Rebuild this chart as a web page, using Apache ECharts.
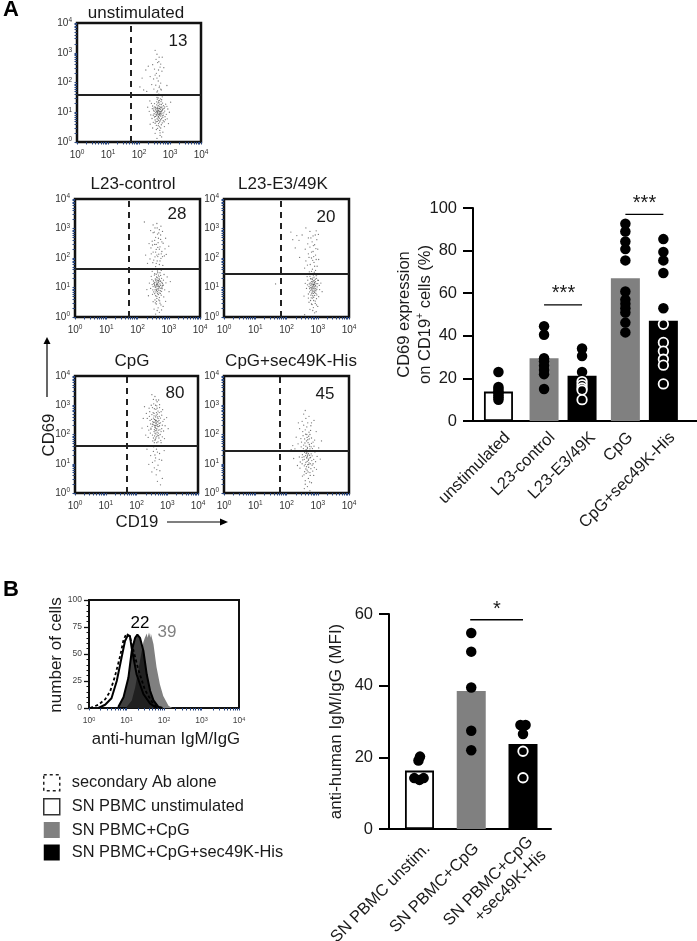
<!DOCTYPE html>
<html><head><meta charset="utf-8">
<style>html,body{margin:0;padding:0;background:#fff}#c{width:697px;height:941px}</style>
<script src="https://cdn.jsdelivr.net/npm/echarts@6/dist/echarts.min.js"></script>
</head><body><div id="c"></div>
<script>
// ---------- DATA ----------
// Flow-cytometry events as [log10 CD19, log10 CD69]
const facsUnstim = [[2.65,1.02],[2.58,0.88],[2.72,1.15],[2.61,1.31],[2.49,0.95],[2.77,0.83],[2.68,0.71],[2.55,1.12],[2.83,1.04],[2.44,1.21],[2.63,0.62],[2.71,1.36],[2.52,0.74],[2.79,1.22],[2.59,1.44],[2.38,0.91],[2.88,0.93],[2.66,0.51],[2.47,1.07],[2.74,0.97],[2.57,1.25],[2.62,0.83],[2.69,1.09],[2.54,0.99],[2.81,1.13],[2.42,0.79],[2.75,0.64],[2.6,1.17],[2.64,0.92],[2.5,1.29],[2.86,1.27],[2.33,1.03],[2.93,1.11],[2.67,0.39],[2.56,0.56],[2.73,1.42],[2.46,0.66],[2.78,0.72],[2.61,0.77],[2.7,0.87],[2.53,0.86],[2.65,1.2],[2.58,1.05],[2.76,1.08],[2.48,1.14],[2.84,0.85],[2.63,1.38],[2.4,1.3],[2.91,0.78],[2.55,0.68],[2.72,0.58],[2.6,0.46],[2.77,0.33],[2.52,0.29],[2.68,0.22],[2.44,0.47],[2.82,0.52],[2.66,0.94],[2.59,0.97],[2.7,1.01],[2.62,1.07],[2.57,0.91],[2.74,1.18],[2.51,1.18],[2.67,1.27],[2.98,1.0],[2.28,1.17],[3.02,1.34],[2.36,0.6],[2.95,0.62],[2.6,1.72],[2.72,1.75],[2.65,1.83],[2.54,1.91],[2.7,1.98],[2.48,1.78],[2.62,2.05],[2.41,1.93],[2.66,2.22],[2.56,2.31],[2.74,2.38],[2.5,2.45],[2.44,2.6],[2.68,2.52],[2.6,2.67],[2.8,2.5],[2.55,2.78],[2.36,2.2],[2.1,2.15],[2.22,2.42],[2.03,1.85],[2.15,1.75],[2.3,2.55],[2.52,3.08],[2.58,2.95],[2.9,1.9],[2.75,2.85],[2.25,1.7],[2.47,2.12],[2.63,2.42]];
const facsUnstimCore = [[2.64,1.05],[2.67,1.13],[2.6,0.99],[2.71,0.93],[2.63,0.86],[2.56,1.02],[2.69,1.17],[2.73,1.03],[2.59,1.11],[2.66,0.8],[2.62,1.23],[2.55,0.93],[2.7,0.75],[2.75,0.88],[2.58,0.78],[2.65,1.12],[2.61,0.94],[2.68,1.02],[2.53,1.08],[2.77,1.11],[2.72,1.26],[2.57,1.35],[2.64,1.33],[2.49,1.03],[2.5,0.84],[2.8,0.98],[2.66,0.67],[2.59,0.69],[2.73,0.79],[2.62,0.55],[2.7,0.47],[2.56,0.42],[2.78,0.9],[2.46,0.9],[2.83,1.18],[2.85,0.75],[2.43,1.12],[2.67,0.9],[2.61,1.13],[2.74,1.06],[2.6,1.03],[2.65,0.97],[2.69,0.96],[2.54,1.16],[2.63,0.73],[2.76,1.31],[2.52,0.63],[2.81,0.68],[2.68,0.31],[2.73,0.17],[2.58,0.12],[2.66,1.4],[2.69,1.45],[2.58,1.5],[2.75,1.52],[2.62,1.48],[2.9,1.2],[2.35,1.38],[2.64,1.61],[2.7,1.78],[2.58,1.68],[2.66,1.88],[2.64,2.7],[2.58,2.15],[2.7,2.62],[2.52,2.25],[2.65,2.85]];
const facsL23Control = [[2.66,1.08],[2.6,0.94],[2.72,1.2],[2.55,1.17],[2.78,1.01],[2.63,1.33],[2.5,1.03],[2.69,0.82],[2.83,1.25],[2.58,0.72],[2.74,1.41],[2.46,1.27],[2.65,1.5],[2.87,0.92],[2.52,0.85],[2.76,0.74],[2.61,1.11],[2.7,1.04],[2.57,1.29],[2.67,0.98],[2.42,0.97],[2.8,1.13],[2.54,1.42],[2.73,0.89],[2.62,0.63],[2.91,1.16],[2.48,0.77],[2.68,1.24],[2.59,1.02],[2.77,1.31],[2.64,0.86],[2.38,1.15],[2.56,0.58],[2.84,0.68],[2.71,0.55],[2.44,1.38],[2.95,1.36],[2.6,0.44],[2.75,0.41],[2.5,0.52],[2.66,0.31],[2.82,0.36],[2.53,0.27],[2.7,0.16],[2.58,0.1],[2.35,0.72],[3.01,0.86],[2.63,1.14],[2.67,1.19],[2.55,1.06],[2.74,1.07],[2.61,0.9],[2.69,1.37],[2.51,1.22],[2.79,0.96],[2.85,1.44],[2.47,1.55],[2.64,1.56],[2.76,1.58],[2.9,0.53],[2.3,0.93],[3.05,1.2],[2.58,1.71],[2.7,1.78],[2.49,1.84],[2.81,1.75],[2.63,1.9],[2.4,1.97],[2.75,1.99],[2.56,2.04],[2.86,2.07],[2.32,1.82],[2.68,2.13],[2.5,2.2],[2.78,2.22],[2.6,2.29],[2.43,2.34],[2.72,2.38],[2.88,2.31],[2.55,2.46],[2.66,2.52],[2.82,2.5],[2.47,2.57],[2.74,2.63],[2.58,2.7],[2.37,2.49],[2.9,2.67],[2.64,2.81],[2.5,2.86],[2.8,2.9],[2.7,2.96],[2.56,3.02],[2.42,2.93],[2.75,3.08],[2.62,3.17],[2.5,3.12],[2.22,3.22],[2.92,2.12],[2.26,2.1],[3.0,2.4],[2.67,1.64]];
const facsL23ControlCore = [[2.64,1.1],[2.68,1.04],[2.6,1.19],[2.72,1.12],[2.57,1.01],[2.65,0.95],[2.7,1.27],[2.62,1.26],[2.75,0.97],[2.54,1.11],[2.66,1.16],[2.59,0.85],[2.73,0.8],[2.63,1.04],[2.68,0.91],[2.56,0.92],[2.78,1.17],[2.52,1.14],[2.61,1.36],[2.69,1.31],[2.65,1.23],[2.8,1.06],[2.49,0.92],[2.58,1.25],[2.71,0.99],[2.6,1.08],[2.74,1.22],[2.67,0.76],[2.55,0.79],[2.62,0.7],[2.7,0.66],[2.77,0.87],[2.47,1.1],[2.83,1.08],[2.64,0.79],[2.68,0.58],[2.57,0.48],[2.72,0.47],[2.61,0.53],[2.63,0.22],[2.77,0.24],[2.55,1.47],[2.72,1.5],[2.6,1.45],[2.67,1.42],[2.65,2.05],[2.6,2.46],[2.7,2.3],[2.52,1.93],[2.74,2.78],[2.55,2.6],[2.67,2.67],[2.62,2.1],[2.72,1.9],[2.48,2.44],[2.78,2.55],[2.6,1.82],[2.8,2.05],[2.65,2.36],[2.54,2.88],[2.68,2.85],[2.44,2.14],[2.76,2.14],[2.58,2.2],[2.63,3.02]];
const facsL23E3 = [[2.86,1.08],[2.8,0.95],[2.93,1.2],[2.76,1.16],[2.98,1.02],[2.84,1.32],[2.72,1.04],[2.9,0.83],[3.02,1.24],[2.78,0.74],[2.95,1.4],[2.68,1.25],[2.87,1.47],[3.06,0.93],[2.74,0.85],[2.97,0.75],[2.82,1.12],[2.91,1.05],[2.79,1.29],[2.88,0.98],[2.64,0.97],[3.0,1.13],[2.75,1.38],[2.94,0.89],[2.83,0.64],[3.1,1.15],[2.7,0.78],[2.89,1.23],[2.81,1.01],[2.96,1.31],[2.85,0.87],[2.6,1.14],[2.77,0.56],[3.03,0.69],[2.92,0.54],[2.66,1.37],[2.85,1.1],[2.88,1.15],[2.83,1.19],[2.9,1.11],[2.8,0.44],[2.96,0.41],[2.72,0.5],[2.86,0.32],[3.0,0.36],[2.75,0.26],[2.9,0.14],[2.58,0.08],[2.56,0.71],[3.14,0.86],[2.84,0.91],[2.78,1.07],[2.92,0.97],[2.81,0.79],[2.87,0.67],[2.73,1.53],[2.93,1.58],[2.83,1.62],[2.98,1.72],[2.76,1.78],[2.88,1.85],[2.62,1.9],[3.03,1.95],[2.8,2.0],[2.93,2.1],[2.7,2.14],[2.85,2.22],[3.0,2.3],[2.75,2.37],[2.9,2.45],[2.6,2.3],[2.82,2.55],[2.97,2.62],[2.7,2.68],[2.85,2.75],[3.02,2.8],[2.75,2.9],[2.4,2.6],[2.2,2.62],[2.28,2.34],[2.14,2.88],[2.5,2.78],[2.42,2.02],[2.58,1.66],[2.33,2.76],[2.62,3.02],[2.95,2.92],[1.65,1.12]];
const facsL23E3Core = [[2.87,1.1],[2.9,1.17],[2.84,1.04],[2.93,1.06],[2.86,1.22],[2.82,0.99],[2.91,0.92],[2.88,1.02],[2.79,1.12],[2.95,1.13],[2.85,0.96],[2.76,1.0],[2.89,0.88],[2.83,1.27],[2.92,1.28],[2.8,1.2],[2.97,0.94],[2.86,0.8],[2.78,0.9],[2.94,0.8],[2.73,1.12],[3.0,1.25],[2.88,1.35],[2.82,0.84],[2.74,0.96],[2.9,0.73],[2.84,0.72],[2.96,0.62],[2.79,0.65],[2.87,0.56],[2.92,0.46],[2.82,0.42],[2.7,0.64],[2.86,1.42],[2.98,1.44],[2.77,1.3],[2.67,1.09],[3.05,1.07],[2.89,1.52],[2.78,1.46],[2.84,0.22],[2.95,0.18],[2.8,2.2],[2.9,1.72],[2.84,1.92],[2.95,1.95],[2.72,2.02],[2.86,2.42],[2.94,2.32],[2.78,2.68],[2.87,2.05],[2.68,2.48],[2.92,2.78],[2.8,1.55],[2.67,1.76]];
const facsCpG = [[2.65,2.4],[2.58,2.52],[2.72,2.27],[2.61,2.13],[2.53,2.44],[2.78,2.56],[2.68,2.7],[2.56,2.33],[2.82,2.2],[2.47,2.18],[2.63,2.86],[2.71,2.05],[2.5,2.68],[2.77,2.0],[2.59,1.95],[2.42,2.62],[2.86,2.45],[2.66,2.98],[2.46,2.36],[2.74,2.62],[2.57,2.1],[2.62,2.6],[2.69,2.34],[2.54,2.75],[2.8,2.78],[2.41,2.9],[2.75,2.92],[2.6,2.24],[2.64,2.48],[2.52,1.98],[2.88,2.12],[2.36,2.28],[2.93,2.3],[2.67,3.12],[2.56,3.05],[2.73,1.88],[2.45,2.05],[2.79,1.8],[2.61,1.83],[2.7,1.75],[2.53,1.78],[2.66,1.93],[2.58,1.72],[2.76,2.16],[2.48,3.0],[2.84,1.92],[2.63,2.02],[2.38,1.9],[2.91,1.86],[2.55,3.2],[2.72,3.18],[2.6,3.3],[2.5,3.36],[2.32,2.72],[2.26,2.95],[2.22,2.55],[2.98,2.58],[3.03,2.2],[2.85,2.85],[2.66,2.2],[2.6,2.42],[2.7,2.55],[2.62,2.3],[2.57,2.64],[2.74,2.38],[2.51,2.28],[2.67,2.08],[2.43,2.78],[2.18,2.22],[2.3,1.98],[2.65,1.5],[2.55,1.42],[2.75,1.35],[2.46,1.28],[2.62,1.2],[2.82,1.12],[2.52,1.05],[2.7,0.95],[2.58,0.86],[2.76,0.76],[2.64,0.62],[2.84,0.5],[2.68,0.4],[2.5,0.72],[2.9,1.45],[2.4,0.98],[2.72,1.6],[2.6,1.3],[2.78,0.28],[2.56,1.58],[2.34,1.5]];
const facsCpGCore = [[2.63,2.37],[2.67,2.45],[2.6,2.51],[2.7,2.43],[2.62,2.22],[2.66,2.32],[2.56,2.41],[2.73,2.48],[2.58,2.17],[2.68,2.6],[2.64,2.66],[2.71,2.15],[2.55,2.56],[2.75,2.3],[2.6,2.05],[2.68,1.98],[2.52,2.35],[2.78,2.4],[2.63,1.88],[2.57,2.72],[2.7,2.8],[2.65,2.75],[2.49,2.52],[2.82,2.66],[2.6,1.8],[2.72,1.96],[2.47,2.22],[2.8,2.1],[2.66,1.72],[2.55,1.88],[2.74,2.75],[2.58,2.88],[2.67,2.9],[2.44,2.48],[2.84,2.32],[2.62,3.0],[2.52,2.92],[2.75,3.02],[2.35,2.55],[2.9,2.52],[2.4,2.15],[2.62,2.47],[2.68,2.27],[2.65,2.15],[2.59,2.3],[2.64,3.18],[2.8,1.72],[2.58,1.62],[2.68,1.4],[2.6,1.1],[2.74,1.15],[2.66,0.8]];
const facsCpGSec = [[2.7,1.35],[2.63,1.48],[2.77,1.22],[2.66,1.08],[2.58,1.39],[2.83,1.52],[2.73,1.66],[2.61,1.28],[2.87,1.15],[2.52,1.13],[2.68,1.82],[2.76,1.0],[2.55,1.64],[2.82,0.95],[2.64,0.9],[2.47,1.58],[2.91,1.4],[2.71,1.94],[2.51,1.31],[2.79,1.58],[2.62,1.05],[2.67,1.56],[2.74,1.29],[2.59,1.71],[2.85,1.74],[2.46,1.86],[2.8,1.88],[2.65,1.19],[2.69,1.44],[2.57,0.93],[2.93,1.07],[2.41,1.23],[2.98,1.25],[2.72,2.08],[2.61,2.01],[2.78,0.83],[2.5,1.0],[2.84,0.75],[2.66,0.78],[2.75,0.7],[2.58,0.73],[2.71,0.88],[2.63,0.67],[2.81,1.11],[2.53,1.96],[2.89,0.87],[2.68,0.97],[2.43,0.85],[2.96,0.81],[2.6,2.16],[2.77,2.14],[2.65,2.26],[2.55,2.32],[2.37,1.68],[2.31,1.91],[2.27,1.51],[3.03,1.54],[3.08,1.16],[2.9,1.81],[2.71,1.16],[2.65,1.38],[2.75,1.51],[2.67,1.26],[2.62,1.6],[2.79,1.34],[2.56,1.24],[2.72,1.03],[2.48,1.74],[2.23,1.18],[2.35,0.94],[2.7,0.5],[2.6,0.42],[2.8,0.35],[2.51,0.58],[2.67,0.22],[2.87,0.6],[2.57,0.15],[2.75,0.08],[2.5,2.45],[2.8,2.4],[2.62,2.55],[2.72,2.62],[2.55,2.7],[2.78,2.3],[2.42,2.2],[2.95,2.1],[2.6,2.82],[2.88,2.48],[2.38,2.4],[3.12,1.78],[2.2,1.62],[2.15,1.48]];
const facsCpGSecCore = [[2.68,1.3],[2.72,1.42],[2.65,1.22],[2.7,1.12],[2.63,1.35],[2.75,1.2],[2.6,1.46],[2.67,1.52],[2.74,1.6],[2.57,1.15],[2.69,1.72],[2.64,1.78],[2.78,1.44],[2.54,1.52],[2.71,0.98],[2.6,0.98],[2.82,1.27],[2.5,1.22],[2.66,1.9],[2.73,1.85],[2.58,1.85],[2.8,1.7],[2.62,0.82],[2.69,0.72],[2.76,0.6],[2.56,0.62],[2.85,1.0],[2.48,1.42],[2.88,1.6],[2.44,1.06],[2.65,2.0],[2.75,2.0],[2.52,2.1],[2.68,2.4],[2.6,0.3],[2.74,0.38]];

const panelTitles = ['unstimulated','L23-control','L23-E3/49K','CpG','CpG+sec49K-His'];
const panelPercents = ['13','28','20','80','45'];
const panelEvents = [facsUnstim.concat(facsUnstimCore),facsL23Control.concat(facsL23ControlCore),facsL23E3.concat(facsL23E3Core),facsCpG.concat(facsCpGCore),facsCpGSec.concat(facsCpGSecCore)];
const gateCD19 = [1.73,1.73,1.81,1.69,1.78];   // log10
const gateCD69 = [1.58,1.65,1.48,1.60,1.46];   // log10
const decadeTicks = [1,10,100,1000,10000];

const cd69Categories = ['unstimulated','L23-control','L23-E3/49K','CpG','CpG+sec49K-His'];
const cd69Means = [13.8,29.5,21.2,67,47.1];
const cd69Filled = [[23,16,15,14,13,12,11,10],[44.5,40.5,29.5,28,26,24,22,15],[34,30.5,23],[92.6,89,84.3,80.7,75.4,60.8,57,55,52.9,50.9,46.2,41.6],[85.4,79.4,75.4,69.5,52.9]];
const cd69Open = [[],[],[18.5,17,15.5,14.5,10],[],[45.4,36.9,32.8,29,26.2,17.4]];

const mfiCategories = ['SN PBMC unstim.','SN PBMC+CpG','SN PBMC+CpG\n+sec49K-His'];
const mfiMeans = [16.3,38.5,23.7];
const mfiFilled = [[[0.01,20.2],[-0.02,19.1],[-0.1,14.2],[0,13.7],[0.08,14.2]],[[0,54.7],[0,49.5],[0,39.5],[0,27.4],[0,22]],[[-0.05,29],[0.05,29],[0,26.5]]];
const mfiOpen = [[],[],[[0,21.7],[0,14.3]]];

// Histograms as [log10 fluorescence, % of max]
const histSecondary = [[.03,0],[.25,3],[.43,8],[.56,15],[.69,29],[.83,48],[.92,63],[1.0,69],[1.09,66],[1.18,54],[1.32,35],[1.49,17],[1.67,6],[1.8,1],[1.95,0]];
const histUnstim = [[.25,0],[.43,3],[.6,9],[.74,25],[.87,47],[.96,62],[1.03,67],[1.09,67],[1.14,55],[1.27,31],[1.45,13],[1.63,4],[1.8,0]];
const histCpG = [[1.0,1],[1.14,7],[1.23,19],[1.36,44],[1.45,61],[1.49,65],[1.54,69],[1.56,65],[1.6,70],[1.64,65],[1.65,69],[1.72,59],[1.8,38],[1.89,22],[1.98,11],[2.12,2],[2.22,0]];
const histCpGSec = [[.78,1],[.92,10],[1.05,28],[1.14,53],[1.23,65],[1.29,68],[1.36,65],[1.45,53],[1.54,31],[1.63,16],[1.72,7],[1.85,1],[1.96,0]];
const legendNames = ['secondary Ab alone','SN PBMC unstimulated','SN PBMC+CpG','SN PBMC+CpG+sec49K-His'];

// ---------- LAYOUT ----------
const FONT = '"Liberation Sans", Arial, sans-serif';
const INK = '#1a1a1a';
const panelRects = [[77,23,124,119],[75,199,125,118],[224,199,125,118],[75,376,123,117],[224,376,125,117]];
const panelTitlePos = [[136,13],[133,184],[283,184],[132,361],[291,361]];
const panelPercentPos = [[178,41],[177,214],[326,217],[175,393],[325,394]];
const cd69Slots = [0.67,1.87,2.87,4.01,5.01];
const cd69LabelSlots = [0.91,2.09,3.15,4.14,5.25];
const mfiSlots = [1,2,3];
const mfiLabelSlots = [1.155,2.1,3.27];

const pow10 = d => Math.pow(10,d);
const logTicks = [];
for (let k=0;k<4;k++) for (let m=1;m<10;m++) logTicks.push(m*pow10(k));
logTicks.push(10000);
const logLabel = v => '{b|10}{s|'+Math.round(Math.log10(v))+'}';
const logRich = {b:{fontSize:10,fontFamily:FONT,color:'#333'},s:{fontSize:6.5,fontFamily:FONT,color:'#333',verticalAlign:'top',padding:[0,0,5,0]}};

function logAxis(gridIndex,labelMargin){
  return {type:'log',logBase:10,min:1,max:10000,gridIndex,splitLine:{show:false},
    axisLine:{show:false,onZero:false},
    axisTick:{show:true,length:2.5,lineStyle:{color:'#27457f',width:1},customValues:logTicks},
    minorTick:{show:false},
    axisLabel:{show:true,margin:labelMargin,formatter:logLabel,rich:logRich,customValues:decadeTicks,showMinLabel:true,showMaxLabel:true}};
}

const grids=[],xAxes=[],yAxes=[],series=[],graphic=[];
const text=(s,x,y,o={})=>graphic.push({type:'text',x,y,rotation:o.rot||0,z:20,style:{text:s,fill:o.fill||INK,font:(o.bold?'bold ':'')+(o.size||17)+'px '+FONT,align:'center',verticalAlign:'middle'}});

panelRects.forEach((r,i)=>{
  grids.push({left:r[0],top:r[1],width:r[2],height:r[3],outerBoundsMode:'none',show:true,borderColor:'#111',borderWidth:2.5,backgroundColor:'#fff'});
  xAxes.push(logAxis(i,7));
  yAxes.push(logAxis(i,5));
  series.push({type:'scatter',name:panelTitles[i],xAxisIndex:i,yAxisIndex:i,symbolSize:1.3,large:false,silent:true,
    itemStyle:{color:'#222',opacity:.62},data:panelEvents[i].map(p=>[pow10(p[0]),pow10(p[1])]),
    markLine:{silent:true,symbol:'none',animation:false,label:{show:false},data:[
      {xAxis:pow10(gateCD19[i]),lineStyle:{color:'#222',width:2,type:[6,5]}},
      {yAxis:pow10(gateCD69[i]),lineStyle:{color:'#222',width:1.8,type:'solid'}}
    ]}});
  text(panelTitles[i],panelTitlePos[i][0],panelTitlePos[i][1]);
  text(panelPercents[i],panelPercentPos[i][0],panelPercentPos[i][1]);
});

// Histogram panel
const H = grids.length;
grids.push({left:89,top:600,width:150,height:108,outerBoundsMode:'none',show:true,borderColor:'#111',borderWidth:2,backgroundColor:'#fff'});
const hx = logAxis(H,8);
hx.axisLabel.rich = {b:{fontSize:8.5,fontFamily:FONT,color:'#444'},s:{fontSize:5.5,fontFamily:FONT,color:'#444',verticalAlign:'top',padding:[0,0,4,0]}};
xAxes.push(hx);
yAxes.push({type:'value',gridIndex:H,min:0,max:100,interval:25,splitLine:{show:false},
  axisLine:{show:false,onZero:false},axisTick:{show:true,length:5,lineStyle:{color:'#111',width:1.3}},
  minorTick:{show:true,splitNumber:5,length:2.5,lineStyle:{color:'#111',width:1}},
  axisLabel:{margin:7,fontSize:8.5,fontFamily:FONT,color:'#444'}});
const histSeries=(name,data,extra)=>Object.assign({type:'line',name,xAxisIndex:H,yAxisIndex:H,symbol:'none',smooth:false,silent:true,
  data:data.map(p=>[pow10(p[0]),p[1]])},extra);
series.push(histSeries(legendNames[2],histCpG,{lineStyle:{width:0},areaStyle:{color:'#808080',opacity:1},itemStyle:{color:'#808080'},z:2}));
series.push(histSeries(legendNames[3],histCpGSec,{lineStyle:{width:2,color:'#000'},areaStyle:{color:'#000',opacity:.75},itemStyle:{color:'#000'},z:3}));
series.push(histSeries(legendNames[1],histUnstim,{lineStyle:{width:2,color:'#000'},itemStyle:{color:'#fff'},z:4}));
series.push(histSeries(legendNames[0],histSecondary,{lineStyle:{width:1.8,color:'#000',type:[3,2.5]},itemStyle:{color:'#fff'},z:5}));
text('22',140,623,{fill:'#000'});
text('39',167,632,{fill:'#808080'});
text('number of cells',56,655,{rot:Math.PI/2});
text('anti-human IgM/IgG',166,739,{size:16.8});

// Bar charts
function barChart(o){
  const g=grids.length;
  grids.push({left:o.left,top:o.top,width:o.width,height:o.height,outerBoundsMode:'none'});
  xAxes.push({type:'value',gridIndex:g,min:o.xMin,max:o.xMax,splitLine:{show:false},
    axisLine:{show:true,onZero:false,lineStyle:{color:'#000',width:2}},axisTick:{show:false},
    axisLabel:{show:true,rotate:45,margin:o.labelMargin,fontSize:16.5,fontFamily:FONT,color:INK,lineHeight:19,
      customValues:o.labelSlots,formatter:v=>o.cats[o.labelSlots.findIndex(s=>Math.abs(s-v)<1e-6)]}});
  yAxes.push({type:'value',gridIndex:g,min:0,max:o.yMax,interval:o.yInt,splitLine:{show:false},
    axisLine:{show:true,onZero:false,lineStyle:{color:'#000',width:2}},
    axisTick:{show:true,length:10,lineStyle:{color:'#000',width:2}},
    axisLabel:{margin:16,fontSize:16.5,fontFamily:FONT,color:INK},
    name:o.yName,nameLocation:'middle',nameGap:o.nameGap,nameRotate:90,nameMoveOverlap:false,
    nameTextStyle:{fontSize:o.nameSize,fontFamily:FONT,color:INK,lineHeight:21,
      rich:{n:{fontSize:o.nameSize,fontFamily:FONT,color:INK,lineHeight:21},u:{fontSize:10,fontFamily:FONT,color:INK,verticalAlign:'top',lineHeight:21}}}});
  series.push({type:'bar',name:o.name,xAxisIndex:g,yAxisIndex:g,barWidth:o.barW,silent:true,z:2,
    data:o.means.map((m,i)=>({value:[o.slots[i],m],itemStyle:o.style(i)}))});
  series.push({type:'scatter',name:o.name+' filled',xAxisIndex:g,yAxisIndex:g,symbolSize:o.dot,silent:true,z:3,
    itemStyle:{color:'#000',opacity:1},clip:false,data:o.filled});
  series.push({type:'scatter',name:o.name+' open',xAxisIndex:g,yAxisIndex:g,symbolSize:o.dot-1,silent:true,z:4,
    itemStyle:{color:'#000',borderColor:'#fff',borderWidth:1.8,opacity:1},clip:false,data:o.open});
  o.sig.forEach(s=>{
    series.push({type:'line',name:'significance',xAxisIndex:g,yAxisIndex:g,symbol:'none',silent:true,z:4,clip:false,
      lineStyle:{color:'#000',width:1.4},data:[[s[0],s[2]],[s[1],s[2]]]});
  });
}
const styleFor = i => i===0?{color:'#fff',borderColor:'#000',borderWidth:1.8}:{color:['','#808080','#000'][((i-1)%2)+1]};

barChart({name:'CD69',left:473,top:208,width:224,height:213,xMin:0,xMax:5.895,slots:cd69Slots,labelSlots:cd69LabelSlots,cats:cd69Categories,
  yMax:100,yInt:20,yName:'CD69 expression\non CD19{u|+} cells (%)',nameGap:37,nameSize:16.5,barW:29,dot:10.5,labelMargin:14,
  means:cd69Means,style:styleFor,
  filled:cd69Filled.flatMap((a,i)=>a.map(v=>[cd69Slots[i],v])),
  open:cd69Open.flatMap((a,i)=>a.map(v=>[cd69Slots[i],v])),
  sig:[[cd69Slots[1],cd69Slots[2],54.5],[cd69Slots[3],cd69Slots[4],97]]});
text('***',563.5,293,{size:20});
text('***',644.5,203,{size:20});

barChart({name:'MFI',left:389,top:614,width:162,height:215,xMin:0.411,xMax:3.541,slots:mfiSlots,labelSlots:mfiLabelSlots,cats:mfiCategories,
  yMax:60,yInt:20,yName:'anti-human IgM/IgG (MFI)',nameGap:42,nameSize:17,barW:29,dot:10.5,labelMargin:17,
  means:mfiMeans,style:i=>[{color:'#fff',borderColor:'#000',borderWidth:1.8},{color:'#808080'},{color:'#000'}][i],
  filled:mfiFilled.flatMap((a,i)=>a.map(p=>[mfiSlots[i]+p[0],p[1]])),
  open:mfiOpen.flatMap((a,i)=>a.map(p=>[mfiSlots[i]+p[0],p[1]])),
  sig:[[1.98,3,58.4]]});
text('*',497,609,{size:20});

// Panel letters and axis captions
text('A',11,10,{bold:true,size:22,fill:'#000'});
text('B',11,590,{bold:true,size:22,fill:'#000'});
text('CD69',49,435,{rot:Math.PI/2,size:16.8});
text('CD19',137,522,{size:16.8});
// arrows
graphic.push({type:'line',shape:{x1:47,y1:397,x2:47,y2:343},style:{stroke:'#000',lineWidth:1.2},z:20});
graphic.push({type:'polygon',shape:{points:[[47,337],[43.5,344],[50.5,344]]},style:{fill:'#000'},z:20});
graphic.push({type:'line',shape:{x1:167,y1:522,x2:222,y2:522},style:{stroke:'#000',lineWidth:1.2},z:20});
graphic.push({type:'polygon',shape:{points:[[228,522],[220,518.5],[220,525.5]]},style:{fill:'#000'},z:20});

const legendIcons=[
  {color:'#fff',borderColor:'#222',borderWidth:1.5,borderType:[3,3]},
  {color:'#fff',borderColor:'#333',borderWidth:1.5},
  {color:'#808080',borderWidth:0},
  {color:'#000',borderWidth:0}];

const option={animation:false,backgroundColor:'#fff',
  grid:grids,xAxis:xAxes,yAxis:yAxes,series,graphic,
  legend:{show:true,selectedMode:false,left:43,top:774,orient:'vertical',itemWidth:16,itemHeight:16,itemGap:6.5,padding:0,
    textStyle:{fontSize:16.4,fontFamily:FONT,color:INK,padding:[0,0,0,7]},
    data:legendNames.map((n,i)=>({name:n,icon:'rect',itemStyle:legendIcons[i],lineStyle:{width:0}}))}
};
echarts.init(document.getElementById('c'),null,{renderer:'canvas'}).setOption(option);
</script></body></html>
